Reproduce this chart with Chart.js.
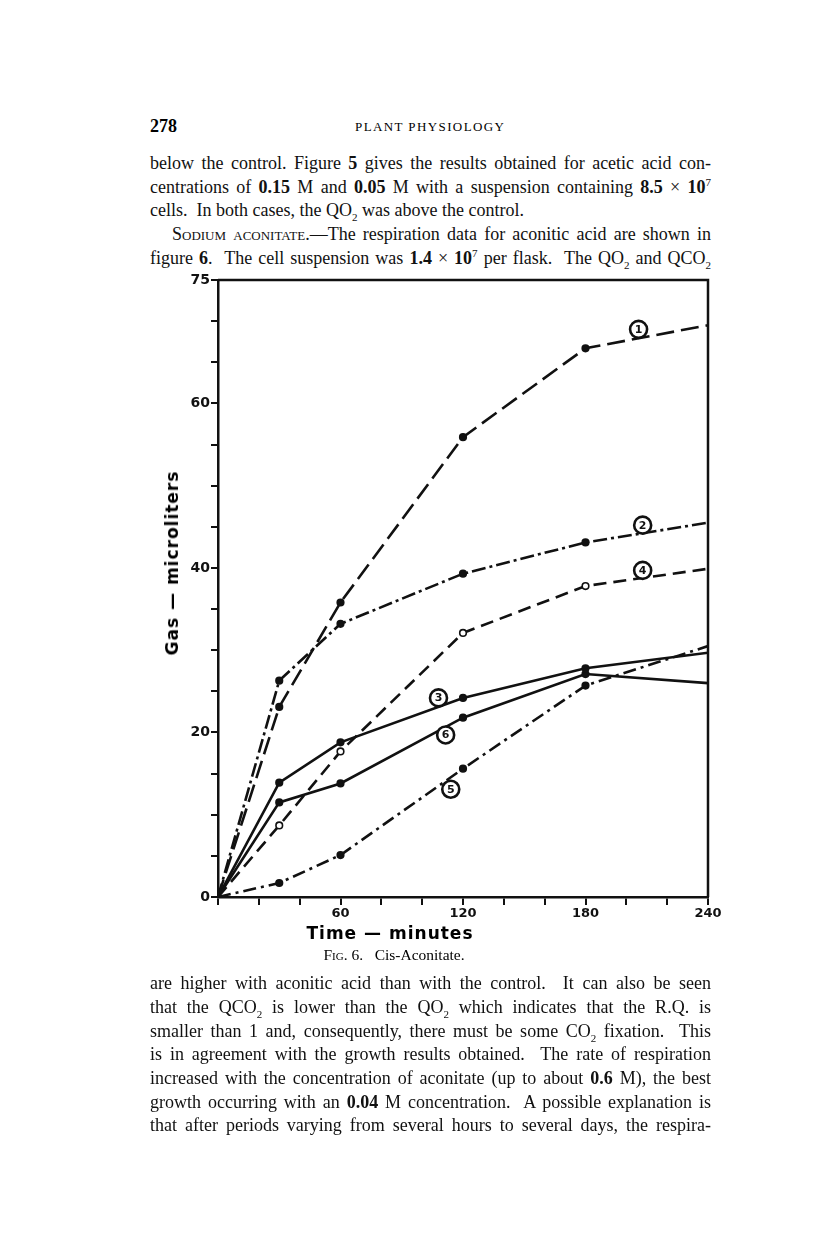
<!DOCTYPE html>
<html>
<head>
<meta charset="utf-8">
<script src="https://cdn.jsdelivr.net/npm/chart.js@4.4.0/dist/chart.umd.min.js"></script>
<style>
  body { margin: 0; background: #fff; width: 816px; height: 1251px; position: relative; overflow: hidden; }
  .ln { position: absolute; left: 150px; width: 561px; height: 24px; line-height: 24px;
        font-family: "Liberation Serif", "DejaVu Serif", serif; font-size: 18px; color: #111;
        text-align: justify; text-align-last: justify; white-space: nowrap; }
  .ln.last { text-align-last: left; }
  .ln b { font-weight: bold; }
  sub, sup { font-size: 11px; line-height: 0; }
  .sc { font-variant: small-caps; }
  #pageno { position: absolute; left: 150px; top: 116px; font: bold 18px "Liberation Serif", serif; }
  #runhead { position: absolute; left: 355px; top: 119px; font: 13px "Liberation Serif", serif; letter-spacing: 1.4px; }
  #chartbox { position: absolute; left: 130px; top: 262px; width: 600px; height: 710px; }
  #ytitle { position: absolute; left: 172px; top: 563px; transform: translate(-50%, -50%) rotate(-90deg);
            font: bold 17px "DejaVu Sans", sans-serif; white-space: nowrap; letter-spacing: 1px; }
  #xtitle { position: absolute; left: 390px; top: 933px; transform: translate(-50%, -50%);
            font: bold 17px "DejaVu Sans", sans-serif; white-space: nowrap; letter-spacing: 1px; }
  #caption { position: absolute; left: 394px; top: 955px; transform: translate(-50%, -50%);
             font: 15.5px "Liberation Serif", serif; white-space: nowrap; }
</style>
</head>
<body>
<div id="pageno">278</div>
<div id="runhead">PLANT PHYSIOLOGY</div>

<div class="ln" style="top:151px">below the control. Figure <b>5</b> gives the results obtained for acetic acid con-</div>
<div class="ln" style="top:175px">centrations of <b>0.15</b> M and <b>0.05</b> M with a suspension containing <b>8.5</b> × <b>10</b><sup>7</sup></div>
<div class="ln last" style="top:198px">cells.&nbsp; In both cases, the QO<sub>2</sub> was above the control.</div>
<div class="ln" style="top:222px; left:172px; width:539px"><span class="sc">Sodium aconitate</span>.—The respiration data for aconitic acid are shown in</div>
<div class="ln" style="top:246px">figure <b>6</b>.&nbsp; The cell suspension was <b>1.4</b> × <b>10</b><sup>7</sup> per flask.&nbsp; The QO<sub>2</sub> and QCO<sub>2</sub></div>

<div id="chartbox"><canvas id="chart" width="600" height="710"></canvas></div>
<div id="ytitle">Gas — microliters</div>
<div id="xtitle">Time — minutes</div>
<div id="caption"><span class="sc">Fig</span>. 6.&nbsp;&nbsp; Cis-Aconitate.</div>

<div class="ln" style="top:971px">are higher with aconitic acid than with the control.&nbsp; It can also be seen</div>
<div class="ln" style="top:995px">that the QCO<sub>2</sub> is lower than the QO<sub>2</sub> which indicates that the R.Q. is</div>
<div class="ln" style="top:1019px">smaller than 1 and, consequently, there must be some CO<sub>2</sub> fixation.&nbsp; This</div>
<div class="ln" style="top:1042px">is in agreement with the growth results obtained.&nbsp; The rate of respiration</div>
<div class="ln" style="top:1066px">increased with the concentration of aconitate (up to about <b>0.6</b> M), the best</div>
<div class="ln" style="top:1090px">growth occurring with an <b>0.04</b> M concentration.&nbsp; A possible explanation is</div>
<div class="ln" style="top:1113px">that after periods varying from several hours to several days, the respira-</div>

<script>
// time in minutes
var times = [0, 30, 60, 120, 180, 240];

// gas, microliters
var curve1 = [0, 23.1, 35.8, 55.9, 66.7, 69.5];
var curve2 = [0, 26.3, 33.2, 39.3, 43.1, 45.5];
var curve3 = [0, 13.9, 18.8, 24.2, 27.8, 29.7];
var curve4 = [0, 8.7, 17.7, 32.1, 37.8, 39.9];
var curve5 = [0, 1.7, 5.1, 15.6, 25.7, 30.5];
var curve6 = [0, 11.5, 13.8, 21.8, 27.1, 26.0];

var yLabels = [0, 20, 40, 60, 75];
var xLabels = [60, 120, 180, 240];

// curve numbers written in circles, placed in data units
var curveTags = [
  { text: '1', x: 206, y: 69.0 },
  { text: '2', x: 208, y: 45.2 },
  { text: '4', x: 208, y: 39.7 },
  { text: '3', x: 108, y: 24.2 },
  { text: '6', x: 111.5, y: 19.7 },
  { text: '5', x: 114, y: 13.1 }
];

function pts(vals) {
  return times.map(function(t, i) { return { x: t, y: vals[i] }; });
}

function series(vals, dash, hollow) {
  return {
    data: pts(vals),
    borderColor: '#111',
    borderWidth: 2.6,
    borderDash: dash,
    pointRadius: function(c) { return (c.dataIndex === 0 || c.dataIndex === times.length - 1) ? 0 : 3.3; },
    pointBackgroundColor: hollow ? '#fff' : '#111',
    pointBorderColor: '#111',
    pointBorderWidth: 1.6,
    tension: 0,
    fill: false
  };
}

var frame = {
  id: 'frame',
  afterDraw: function(chart) {
    var a = chart.chartArea, ctx = chart.ctx;
    ctx.save();
    ctx.strokeStyle = '#111';
    ctx.lineWidth = 2.5;
    ctx.beginPath();
    ctx.moveTo(a.left, a.top);
    ctx.lineTo(a.right, a.top);
    ctx.lineTo(a.right, a.bottom);
    ctx.stroke();
    ctx.restore();
  }
};

var tags = {
  id: 'tags',
  afterDatasetsDraw: function(chart) {
    var ctx = chart.ctx;
    ctx.save();
    curveTags.forEach(function(t) {
      var px = chart.scales.x.getPixelForValue(t.x);
      var py = chart.scales.y.getPixelForValue(t.y);
      ctx.beginPath();
      ctx.arc(px, py, 8.5, 0, Math.PI * 2);
      ctx.fillStyle = '#fff';
      ctx.fill();
      ctx.lineWidth = 2.6;
      ctx.strokeStyle = '#111';
      ctx.stroke();
      ctx.fillStyle = '#111';
      ctx.font = 'bold 11px "DejaVu Sans"';
      ctx.textAlign = 'center';
      ctx.textBaseline = 'middle';
      ctx.fillText(t.text, px, py + 0.5);
    });
    ctx.restore();
  }
};

var config = {
  type: 'line',
  data: {
    datasets: [
      series(curve1, [18, 7], false),
      series(curve2, [14, 4, 3, 4], false),
      series(curve3, [], false),
      series(curve4, [13, 7], true),
      series(curve5, [13, 5, 3, 5], false),
      series(curve6, [], false)
    ]
  },
  options: {
    responsive: false,
    devicePixelRatio: 1,
    animation: false,
    layout: { padding: { top: 18, right: 22, left: 0, bottom: 0 } },
    plugins: { legend: { display: false }, tooltip: { enabled: false } },
    scales: {
      x: {
        type: 'linear',
        min: 0,
        max: 240,
        afterFit: function(s) { s.height = 75; },
        ticks: {
          stepSize: 20,
          autoSkip: false,
          maxRotation: 0,
          padding: 1,
          color: '#111',
          font: { family: 'DejaVu Sans', weight: 'bold', size: 13 },
          callback: function(v) { return xLabels.indexOf(v) >= 0 ? String(v) : ''; }
        },
        grid: { drawOnChartArea: false, drawTicks: true, tickLength: 8, color: '#111', lineWidth: 2 },
        border: { display: true, color: '#111', width: 2.5 }
      },
      y: {
        min: 0,
        max: 75,
        afterFit: function(s) { s.width = 88; },
        ticks: {
          stepSize: 5,
          autoSkip: false,
          padding: 1,
          color: '#111',
          font: { family: 'DejaVu Sans', weight: 'bold', size: 14 },
          callback: function(v) { return yLabels.indexOf(v) >= 0 ? String(v) : ''; }
        },
        grid: { drawOnChartArea: false, drawTicks: true, tickLength: 7, color: '#111', lineWidth: 2 },
        border: { display: true, color: '#111', width: 2.5 }
      }
    }
  },
  plugins: [frame, tags]
};

var ctx = document.getElementById('chart').getContext('2d');
var myChart = new Chart(ctx, config);
</script>
</body>
</html>
